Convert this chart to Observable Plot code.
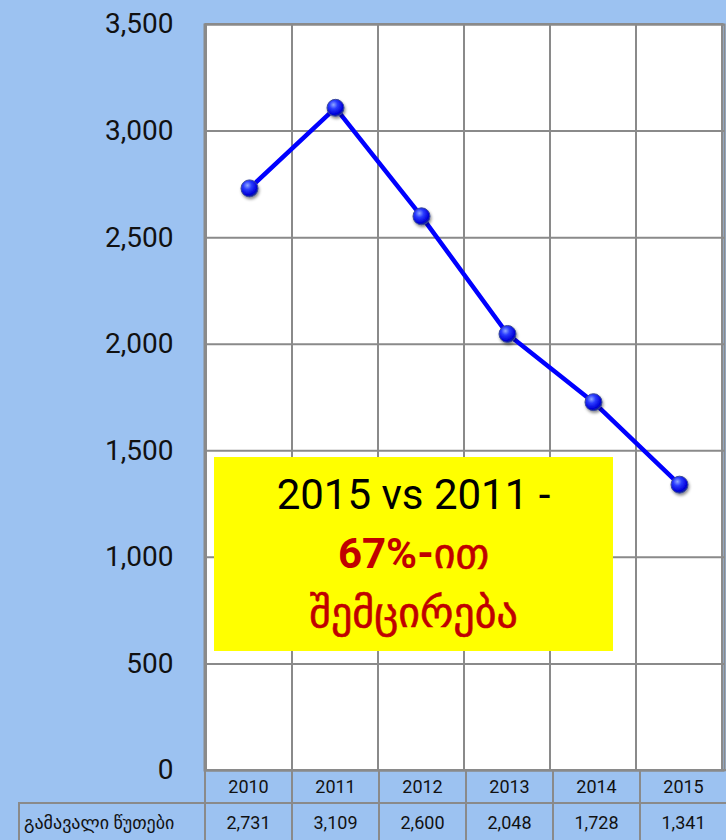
<!DOCTYPE html>
<html>
<head>
<meta charset="utf-8">
<script src="https://cdn.jsdelivr.net/npm/d3@7"></script>
<script src="https://cdn.jsdelivr.net/npm/@observablehq/plot@0.6"></script>
<style>
  html, body { margin: 0; padding: 0; background: #9cc2f1; }
  #wrap { position: relative; width: 726px; height: 840px; overflow: hidden; background: #9cc2f1; font-family: Roboto, "DejaVu Sans", sans-serif; }
  #chart { position: absolute; left: 0; top: 0; }
  #tbl { position: absolute; left: 18px; top: 769px; border-collapse: collapse; table-layout: fixed; width: 708px; font-family: Roboto, "DejaVu Sans", sans-serif; font-size: 18px; color: #111; }
  #tbl td { border: 2px solid #8a8a8a; text-align: center; padding: 0; }
  #tbl tr.yr td { height: 31px; }
  #tbl tr.val td { height: 36px; }
  #tbl td.blank { border: none; border-right: 2px solid #8a8a8a; }
  #tbl td.lab { text-align: left; padding-left: 4px; white-space: nowrap; }
  #note { position: absolute; left: 214px; top: 457px; width: 399px; height: 194px; background: #ffff00; text-align: center; }
  #note div { line-height: 59px; height: 59px; font-size: 42px; }
  #note .l1 { color: #000; margin-top: 8px; }
  #note .l2 { color: #c00000; font-weight: bold; }
  #note .l3 { color: #c00000; }
  #note .geo { font-weight: normal; -webkit-text-stroke: 0.6px #c00000; }
</style>
</head>
<body>
<svg width="0" height="0" style="position:absolute">
  <defs>
    <radialGradient id="ball" cx="0.38" cy="0.32" r="0.7">
      <stop offset="0" stop-color="#8fa8ff"/>
      <stop offset="0.35" stop-color="#2a3cff"/>
      <stop offset="0.8" stop-color="#0000d8"/>
      <stop offset="1" stop-color="#1a2c8a"/>
    </radialGradient>
    <filter id="shadow" x="-50%" y="-50%" width="200%" height="200%">
      <feDropShadow dx="1" dy="2" stdDeviation="1.6" flood-color="#000" flood-opacity="0.45"/>
    </filter>
  </defs>
</svg>
<div id="wrap">
  <div id="chart"></div>
  <div id="note"></div>
  <table id="tbl"></table>
</div>
<script>
const years = ["2010", "2011", "2012", "2013", "2014", "2015"];
const minutes = [2731, 3109, 2600, 2048, 1728, 1341];
const yTicks = [0, 500, 1000, 1500, 2000, 2500, 3000, 3500];
const rowLabel = "გამავალი წუთები";
const noteLine1 = "2015 vs 2011 -";
const noteLine2 = "67%-ით";
const noteLine3 = "შემცირება";

const data = years.map((y, i) => ({year: y, value: minutes[i]}));
const fmt = d3.format(",");

const chart = Plot.plot({
  width: 726,
  height: 840,
  marginLeft: 204,
  marginRight: 2,
  marginTop: 24,
  marginBottom: 70,
  style: {background: "transparent", fontFamily: "Roboto, 'DejaVu Sans', sans-serif", color: "#111", overflow: "visible"},
  x: {type: "band", domain: years, padding: 0, axis: null},
  y: {domain: [0, 3500]},
  marks: [
    Plot.cell(years, {x: d => d, fill: "white", stroke: "#8a8a8a", strokeWidth: 2}),
    Plot.ruleY(yTicks, {stroke: "#8a8a8a", strokeWidth: 2}),
    Plot.axisY(yTicks, {tickSize: 0, tickPadding: 31, fontSize: 28, tickFormat: fmt, label: null}),
    Plot.line(data, {x: "year", y: "value", stroke: "#0000ff", strokeWidth: 4.5}),
    Plot.dot(data, {x: "year", y: "value", r: 8.5, fill: "url(#ball)", stroke: "#3a4a9a", strokeWidth: 1}),
    Plot.frame({stroke: "#8a8a8a", strokeWidth: 2})
  ]
});
chart.querySelectorAll("circle").forEach(c => c.setAttribute("filter", "url(#shadow)"));
document.getElementById("chart").appendChild(chart);

const note = document.getElementById("note");
function addLine(text, cls) {
  const d = document.createElement("div");
  d.className = cls;
  text.split(/([\u10A0-\u10FF]+)/).forEach(part => {
    if (!part) return;
    if (/[\u10A0-\u10FF]/.test(part)) {
      const s = document.createElement("span"); s.className = "geo"; s.textContent = part; d.appendChild(s);
    } else d.appendChild(document.createTextNode(part));
  });
  note.appendChild(d);
}
addLine(noteLine1, "l1");
addLine(noteLine2, "l2");
addLine(noteLine3, "l3");

const tbl = document.getElementById("tbl");
const cg = document.createElement("colgroup");
[186, ...years.map(() => 87)].forEach(w => { const col = document.createElement("col"); col.style.width = w + "px"; cg.appendChild(col); });
tbl.appendChild(cg);
const r1 = tbl.insertRow(); r1.className = "yr";
const b = r1.insertCell(); b.className = "blank";
years.forEach(y => { r1.insertCell().textContent = y; });
const r2 = tbl.insertRow(); r2.className = "val";
const l = r2.insertCell(); l.className = "lab"; l.textContent = rowLabel;
minutes.forEach(v => { r2.insertCell().textContent = fmt(v); });
</script>
</body>
</html>
